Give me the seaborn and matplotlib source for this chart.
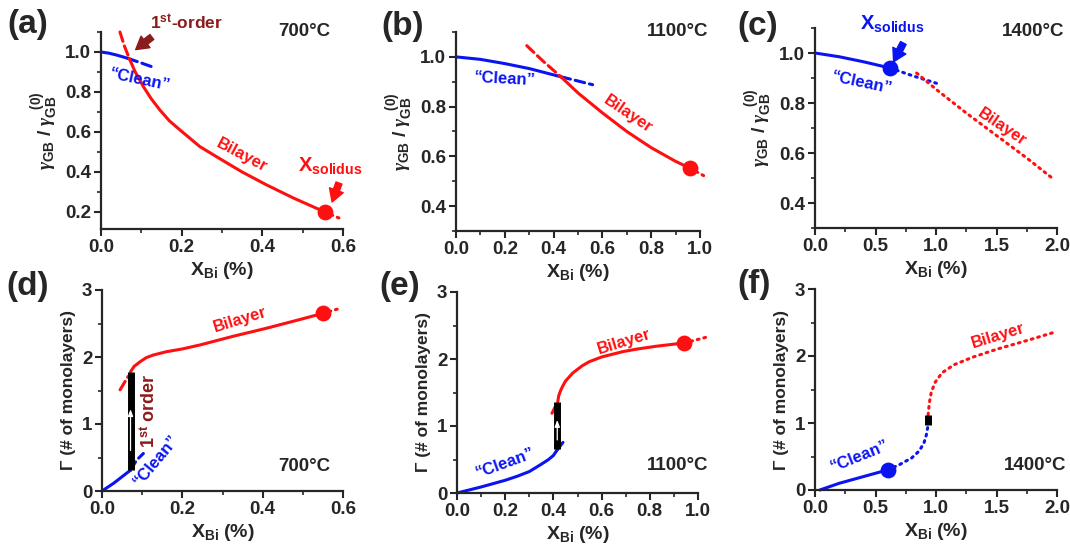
import matplotlib
matplotlib.use("Agg")
import matplotlib.pyplot as plt
from matplotlib.ticker import MultipleLocator
import seaborn as sns

BLUE = '#0a14f0'
RED = '#ff1010'
DARKRED = '#8b1c1c'

# (a) 700C, normalised GB energy
A_CLEAN_X = [0.0, 0.02, 0.04, 0.067]
A_CLEAN_Y = [1.0, 0.994, 0.984, 0.968]
A_CLEAN_EXT_X = [0.067, 0.1, 0.135]
A_CLEAN_EXT_Y = [0.968, 0.945, 0.92]
A_META_X = [0.047, 0.058, 0.07]
A_META_Y = [1.1, 1.03, 0.968]
A_BI_X = [0.07, 0.085, 0.105, 0.125, 0.146, 0.17, 0.196, 0.245, 0.3, 0.35, 0.411, 0.477, 0.555]
A_BI_Y = [0.968, 0.9, 0.827, 0.765, 0.71, 0.655, 0.61, 0.527, 0.46, 0.4, 0.335, 0.27, 0.2]
A_BI_EXT_X = [0.555, 0.59]
A_BI_EXT_Y = [0.2, 0.17]

# (b) 1100C
B_CLEAN_X = [0.0, 0.1, 0.2, 0.3, 0.43]
B_CLEAN_Y = [1.0, 0.99, 0.973, 0.953, 0.92]
B_CLEAN_EXT_X = [0.43, 0.5, 0.56]
B_CLEAN_EXT_Y = [0.92, 0.903, 0.888]
B_META_X = [0.29, 0.36, 0.43]
B_META_Y = [1.045, 0.98, 0.92]
B_BI_X = [0.43, 0.5, 0.6, 0.7, 0.8, 0.9, 0.96]
B_BI_Y = [0.92, 0.855, 0.775, 0.7, 0.635, 0.58, 0.552]
B_BI_EXT_X = [0.96, 1.02]
B_BI_EXT_Y = [0.552, 0.52]

# (c) 1400C
C_CLEAN_X = [0.0, 0.2, 0.4, 0.62]
C_CLEAN_Y = [1.0, 0.985, 0.965, 0.94]
C_CLEAN_EXT_X = [0.62, 0.8, 1.03]
C_CLEAN_EXT_Y = [0.94, 0.91, 0.875]
C_BI_X = [0.84, 1.0, 1.25, 1.5, 1.75, 1.97]
C_BI_Y = [0.92, 0.855, 0.76, 0.67, 0.58, 0.496]

# (d) 700C, adsorption
D_CLEAN_X = [0.0, 0.015, 0.03, 0.045, 0.06, 0.071]
D_CLEAN_Y = [0.0, 0.06, 0.12, 0.19, 0.26, 0.31]
D_CLEAN_EXT_X = [0.071, 0.086, 0.103]
D_CLEAN_EXT_Y = [0.31, 0.46, 0.56]
D_META_X = [0.045, 0.055, 0.065]
D_META_Y = [1.51, 1.61, 1.71]
D_BI_X = [0.071, 0.08, 0.095, 0.11, 0.128, 0.161, 0.2, 0.244, 0.327, 0.41, 0.493, 0.549]
D_BI_Y = [1.78, 1.86, 1.93, 1.99, 2.03, 2.08, 2.12, 2.18, 2.31, 2.43, 2.56, 2.65]
D_BI_EXT_X = [0.549, 0.595]
D_BI_EXT_Y = [2.65, 2.73]
D_JUMP_X = 0.071
D_JUMP_Y = [0.31, 1.78]

# (e) 1100C
E_CLEAN_X = [0.0, 0.05, 0.1, 0.15, 0.2, 0.25, 0.3, 0.35, 0.38, 0.4, 0.415]
E_CLEAN_Y = [0.0, 0.045, 0.09, 0.14, 0.19, 0.25, 0.32, 0.43, 0.5, 0.56, 0.64]
E_CLEAN_EXT_X = [0.415, 0.43, 0.445]
E_CLEAN_EXT_Y = [0.64, 0.71, 0.78]
E_META_X = [0.394, 0.401, 0.408]
E_META_Y = [1.19, 1.24, 1.29]
E_BI_X = [0.418, 0.422, 0.43, 0.438, 0.45, 0.48, 0.52, 0.549, 0.6, 0.688, 0.75, 0.826, 0.943]
E_BI_Y = [1.36, 1.45, 1.53, 1.59, 1.67, 1.79, 1.9, 1.96, 2.03, 2.11, 2.15, 2.19, 2.24]
E_BI_EXT_X = [0.943, 1.04]
E_BI_EXT_Y = [2.24, 2.33]
E_JUMP_X = 0.416
E_JUMP_Y = [0.65, 1.36]

# (f) 1400C
F_CLEAN_X = [0.04, 0.2, 0.4, 0.6]
F_CLEAN_Y = [0.0, 0.1, 0.2, 0.3]
F_CLEAN_EXT_X = [0.6, 0.7, 0.8, 0.86, 0.9, 0.92, 0.935]
F_CLEAN_EXT_Y = [0.3, 0.38, 0.48, 0.58, 0.7, 0.82, 0.97]
F_BI_X = [0.935, 0.945, 0.96, 0.99, 1.05, 1.15, 1.3, 1.5, 1.75, 1.97]
F_BI_Y = [1.12, 1.3, 1.45, 1.6, 1.75, 1.87, 1.98, 2.1, 2.23, 2.35]
F_JUMP_X = 0.935
F_JUMP_Y = [0.97, 1.12]

SOLIDUS_X = [0.555, 0.96, 0.62, 0.549, 0.943, 0.6]
SOLIDUS_Y = [0.2, 0.552, 0.94, 2.65, 2.24, 0.3]
SOLIDUS_C = [RED, RED, BLUE, RED, RED, BLUE]

TEMPS = ['700°C', '1100°C', '1400°C', '700°C', '1100°C', '1400°C']
LETTERS = ['(a)', '(b)', '(c)', '(d)', '(e)', '(f)']

DASH = (0, (3.2, 1.6))
DOT = (0, (0.6, 1.6))

sns.set_style("ticks")
plt.rcParams['font.family'] = ['Liberation Sans', 'DejaVu Sans']
plt.rcParams['font.weight'] = 'bold'
plt.rcParams['axes.labelweight'] = 'bold'
plt.rcParams['mathtext.fontset'] = 'custom'
plt.rcParams['mathtext.rm'] = 'Liberation Sans'
plt.rcParams['mathtext.bf'] = 'Liberation Sans:bold'
plt.rcParams['mathtext.it'] = 'Liberation Serif:italic'


def curve(ax, x, y, color, ls='-', lw=2.2):
    sns.lineplot(x=x, y=y, ax=ax, color=color, linestyle=ls, lw=lw,
                 sort=False, estimator=None, legend=False, clip_on=False,
                 dash_capstyle='round')


def style(ax, xlim, ylim, xmaj, ymaj, ylabel):
    ax.set_xlim(*xlim)
    ax.set_ylim(*ylim)
    ax.xaxis.set_major_locator(MultipleLocator(xmaj))
    ax.xaxis.set_minor_locator(MultipleLocator(xmaj / 2))
    ax.yaxis.set_major_locator(MultipleLocator(ymaj))
    ax.yaxis.set_minor_locator(MultipleLocator(ymaj / 2))
    sns.despine(ax=ax)
    for s in ('left', 'bottom'):
        ax.spines[s].set_linewidth(1.6)
    ax.tick_params(which='major', direction='out', length=5, width=1.5,
                   labelsize=13.5, pad=2)
    ax.tick_params(which='minor', direction='out', length=3, width=1.2)
    ax.set_xlabel(r'$\mathbf{X_{Bi}\ (\%)}$', fontsize=14, labelpad=3)
    if ylabel == 'gamma':
        ax.set_ylabel(r'$\gamma_{\mathrm{GB}}\ /\ \gamma_{\mathrm{GB}}^{\ \ (0)}$',
                      fontsize=14, labelpad=3)
    else:
        ax.set_ylabel('Γ (# of monolayers)', fontsize=12.5, labelpad=4)


def label(ax, x, y, s, color, rot, size=12):
    ax.text(x, y, s, color=color, rotation=rot, ha='center', va='center',
            fontsize=size, fontweight='bold', rotation_mode='anchor')


def arrow(ax, tail, tip, color):
    ax.annotate('', xy=tip, xytext=tail, annotation_clip=False,
                arrowprops=dict(arrowstyle='simple,head_length=0.6,head_width=0.7,tail_width=0.3',
                                color=color, mutation_scale=15, shrinkA=0, shrinkB=0))


def jump(ax, x, ys, white_arrow=True):
    sns.lineplot(x=[x, x], y=ys, ax=ax, color='black', lw=5, sort=False,
                 estimator=None, legend=False, solid_capstyle='butt', zorder=4)
    if white_arrow:
        lo, hi = ys
        ax.annotate('', xy=(x, lo + 0.62 * (hi - lo)), xytext=(x, lo + 0.2 * (hi - lo)),
                    arrowprops=dict(arrowstyle='-|>,head_length=0.4,head_width=0.15',
                                    color='white', lw=0.9, shrinkA=0, shrinkB=0), zorder=5)


fig = plt.figure(figsize=(10.7, 5.47), dpi=100)
W, H = 1070, 547
boxes = [(101, 32, 343, 229), (456, 32, 700, 231), (815, 28, 1057, 228),
         (102, 290, 343, 491), (457, 292, 698, 493), (815, 289, 1057, 490)]
axes = [fig.add_axes([l / W, 1 - b / H, (r - l) / W, (b - t) / H]) for l, t, r, b in boxes]
ax_a, ax_b, ax_c, ax_d, ax_e, ax_f = axes

# (a)
curve(ax_a, A_CLEAN_X, A_CLEAN_Y, BLUE)
curve(ax_a, A_CLEAN_EXT_X, A_CLEAN_EXT_Y, BLUE, DASH)
curve(ax_a, A_META_X, A_META_Y, RED, DASH)
curve(ax_a, A_BI_X, A_BI_Y, RED)
curve(ax_a, A_BI_EXT_X, A_BI_EXT_Y, RED, DOT)
style(ax_a, (0, 0.6), (0.115, 1.1), 0.2, 0.2, 'gamma')
label(ax_a, 0.097, 0.86, '“Clean”', BLUE, -12)
label(ax_a, 0.349, 0.485, 'Bilayer', RED, -28)
ax_a.text(0.213, 1.15, r'1$^{\mathbf{st}}$-order', color=DARKRED, ha='center',
          va='center', fontsize=12.5, fontweight='bold')
arrow(ax_a, (0.126, 1.075), (0.086, 1.012), DARKRED)
ax_a.text(0.568, 0.435, r'X$_{\mathbf{solidus}}$', color=RED, ha='center',
          va='center', fontsize=14.5, fontweight='bold')
arrow(ax_a, (0.59, 0.345), (0.573, 0.25), RED)

# (b)
curve(ax_b, B_CLEAN_X, B_CLEAN_Y, BLUE)
curve(ax_b, B_CLEAN_EXT_X, B_CLEAN_EXT_Y, BLUE, DASH)
curve(ax_b, B_META_X, B_META_Y, RED, DASH)
curve(ax_b, B_BI_X, B_BI_Y, RED)
curve(ax_b, B_BI_EXT_X, B_BI_EXT_Y, RED, DOT)
style(ax_b, (0, 1.0), (0.3, 1.1), 0.2, 0.2, 'gamma')
label(ax_b, 0.2, 0.911, '“Clean”', BLUE, -3)
label(ax_b, 0.706, 0.768, 'Bilayer', RED, -34)

# (c)
curve(ax_c, C_CLEAN_X, C_CLEAN_Y, BLUE)
curve(ax_c, C_CLEAN_EXT_X, C_CLEAN_EXT_Y, BLUE, DOT)
curve(ax_c, C_BI_X, C_BI_Y, RED, DOT)
style(ax_c, (0, 2.0), (0.3, 1.1), 0.5, 0.2, 'gamma')
label(ax_c, 0.386, 0.881, '“Clean”', BLUE, -12)
label(ax_c, 1.543, 0.704, 'Bilayer', RED, -34)
ax_c.text(0.636, 1.116, r'X$_{\mathbf{solidus}}$', color=BLUE, ha='center',
          va='center', fontsize=14.5, fontweight='bold')
arrow(ax_c, (0.73, 1.04), (0.65, 0.965), BLUE)

# (d)
curve(ax_d, D_CLEAN_X, D_CLEAN_Y, BLUE)
curve(ax_d, D_CLEAN_EXT_X, D_CLEAN_EXT_Y, BLUE, DASH)
curve(ax_d, D_META_X, D_META_Y, RED, DASH)
curve(ax_d, D_BI_X, D_BI_Y, RED)
curve(ax_d, D_BI_EXT_X, D_BI_EXT_Y, RED, DOT)
jump(ax_d, D_JUMP_X, D_JUMP_Y)
style(ax_d, (0, 0.6), (0, 3), 0.2, 1, 'gamma_ads')
label(ax_d, 0.134, 0.458, '“Clean”', BLUE, 50)
label(ax_d, 0.345, 2.55, 'Bilayer', RED, 17)
ax_d.text(0.117, 1.2, r'1$^{\mathbf{st}}$ order', color=DARKRED, rotation=90,
          ha='center', va='center', fontsize=13, fontweight='bold')

# (e)
curve(ax_e, E_CLEAN_X, E_CLEAN_Y, BLUE)
curve(ax_e, E_CLEAN_EXT_X, E_CLEAN_EXT_Y, BLUE, DASH)
curve(ax_e, E_META_X, E_META_Y, RED, DASH)
curve(ax_e, E_BI_X, E_BI_Y, RED)
curve(ax_e, E_BI_EXT_X, E_BI_EXT_Y, RED, DOT)
jump(ax_e, E_JUMP_X, E_JUMP_Y)
style(ax_e, (0, 1.0), (0, 3), 0.2, 1, 'gamma_ads')
label(ax_e, 0.199, 0.45, '“Clean”', BLUE, 20)
label(ax_e, 0.694, 2.26, 'Bilayer', RED, 17)

# (f)
curve(ax_f, F_CLEAN_X, F_CLEAN_Y, BLUE)
curve(ax_f, F_CLEAN_EXT_X, F_CLEAN_EXT_Y, BLUE, DOT)
curve(ax_f, F_BI_X, F_BI_Y, RED, DOT)
jump(ax_f, F_JUMP_X, F_JUMP_Y, white_arrow=False)
style(ax_f, (0, 2.0), (0, 3), 0.5, 1, 'gamma_ads')
label(ax_f, 0.372, 0.506, '“Clean”', BLUE, 22)
label(ax_f, 1.515, 2.30, 'Bilayer', RED, 17)

# solidus points
for ax, x, y, c in zip(axes, SOLIDUS_X, SOLIDUS_Y, SOLIDUS_C):
    sns.scatterplot(x=[x], y=[y], ax=ax, color=c, s=130, edgecolor=c,
                    linewidth=0, zorder=6, clip_on=False, legend=False)

temp_pos = [(0.839, 1.005), (0.91, 1.005), (0.90, 0.985),
            (0.838, 0.124), (0.917, 0.139), (0.909, 0.124)]
for ax, t, (x, y) in zip(axes, TEMPS, temp_pos):
    ax.text(x, y, t, transform=ax.transAxes, ha='center', va='center',
            fontsize=13.5, fontweight='bold')

letter_pos = [(28, 25), (403, 26), (758, 27), (28, 286), (400, 287), (754, 285)]
for s, (x, y) in zip(LETTERS, letter_pos):
    fig.text(x / W, 1 - y / H, s, ha='center', va='center', fontsize=24,
             fontweight='bold')

fig.savefig('out.png', dpi=100)
